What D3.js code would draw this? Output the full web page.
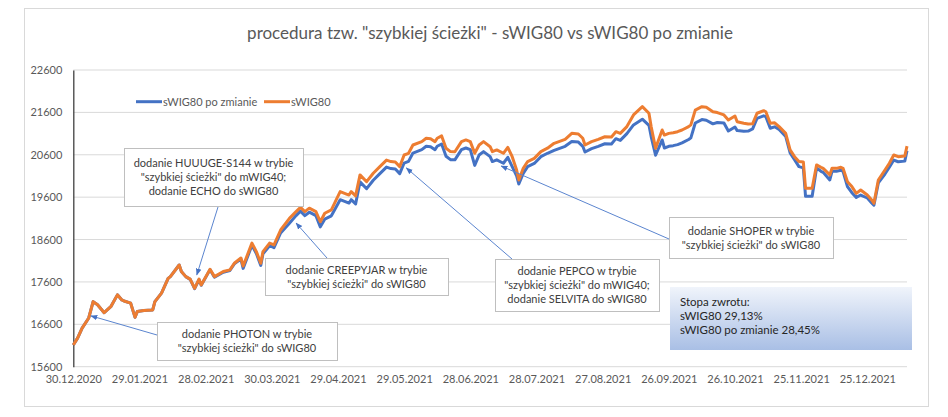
<!DOCTYPE html>
<html><head><meta charset="utf-8">
<script src="https://cdn.jsdelivr.net/npm/d3@7/dist/d3.min.js"></script>
<style>body{margin:0;background:#fff;}svg{display:block;font-family:Lato,"Open Sans",sans-serif;}</style>
</head><body><svg id="c" width="948" height="417"></svg>
<script>
const dates = ["2020-12-30","2021-01-01","2021-01-03","2021-01-06","2021-01-08","2021-01-10","2021-01-13","2021-01-16","2021-01-19","2021-01-21","2021-01-22","2021-01-25","2021-01-27","2021-01-28","2021-01-31","2021-02-04","2021-02-05","2021-02-08","2021-02-11","2021-02-12","2021-02-16","2021-02-17","2021-02-19","2021-02-21","2021-02-23","2021-02-25","2021-02-26","2021-03-02","2021-03-04","2021-03-08","2021-03-11","2021-03-13","2021-03-16","2021-03-17","2021-03-21","2021-03-23","2021-03-25","2021-03-26","2021-03-29","2021-03-31","2021-04-03","2021-04-07","2021-04-10","2021-04-12","2021-04-14","2021-04-16","2021-04-19","2021-04-21","2021-04-23","2021-04-26","2021-04-30","2021-05-02","2021-05-04","2021-05-05","2021-05-07","2021-05-09","2021-05-12","2021-05-15","2021-05-18","2021-05-21","2021-05-23","2021-05-25","2021-05-27","2021-05-29","2021-05-31","2021-06-02","2021-06-06","2021-06-08","2021-06-10","2021-06-12","2021-06-13","2021-06-15","2021-06-17","2021-06-19","2021-06-21","2021-06-24","2021-06-26","2021-06-28","2021-06-30","2021-07-02","2021-07-04","2021-07-07","2021-07-08","2021-07-10","2021-07-13","2021-07-15","2021-07-17","2021-07-19","2021-07-20","2021-07-22","2021-07-24","2021-07-27","2021-07-30","2021-08-02","2021-08-05","2021-08-10","2021-08-13","2021-08-16","2021-08-18","2021-08-19","2021-08-22","2021-08-25","2021-08-28","2021-08-31","2021-09-02","2021-09-04","2021-09-07","2021-09-10","2021-09-14","2021-09-17","2021-09-18","2021-09-20","2021-09-23","2021-09-24","2021-09-26","2021-09-28","2021-09-30","2021-10-02","2021-10-05","2021-10-06","2021-10-08","2021-10-11","2021-10-13","2021-10-16","2021-10-18","2021-10-21","2021-10-23","2021-10-26","2021-10-27","2021-10-30","2021-11-01","2021-11-03","2021-11-05","2021-11-08","2021-11-09","2021-11-11","2021-11-13","2021-11-15","2021-11-18","2021-11-20","2021-11-22","2021-11-24","2021-11-26","2021-11-27","2021-11-30","2021-12-02","2021-12-04","2021-12-05","2021-12-08","2021-12-09","2021-12-11","2021-12-13","2021-12-14","2021-12-16","2021-12-18","2021-12-20","2021-12-22","2021-12-25","2021-12-27","2021-12-28","2021-12-30","2022-01-02","2022-01-04","2022-01-06","2022-01-08","2022-01-11","2022-01-12"];

const swig80 = [16110,16280,16510,16750,17135,17060,16875,17015,17295,17175,17150,17100,16765,16900,16925,16940,17135,17335,17685,17725,18000,17845,17725,17665,17450,17665,17530,17900,17725,17845,17885,18040,18165,17975,18515,18315,18040,18315,18515,18475,18825,19100,19260,19360,19260,19340,19260,19020,19220,19300,19730,19690,19650,19730,19630,20125,19965,20165,20320,20475,20440,20430,20320,20595,20635,20830,20910,20990,20980,20910,20990,21045,20755,20675,20670,20910,20950,20910,20635,20830,20910,20790,20675,20715,20635,20775,20555,20240,20005,20280,20440,20515,20675,20755,20870,20965,21105,21090,20990,20830,20910,20965,21025,21020,21145,21105,21265,21540,21735,21580,21265,20755,21185,21065,21105,21120,21145,21185,21265,21305,21655,21735,21720,21615,21595,21540,21420,21515,21380,21345,21325,21330,21580,21640,21615,21345,21355,21265,21105,20715,20555,20440,20430,19810,19810,20360,20305,20280,20125,20280,20280,20305,20280,19965,19850,19690,19770,19650,19535,19455,20005,20240,20400,20595,20555,20570,20805];

const swig80New = [16110,16280,16510,16750,17135,17060,16875,17015,17295,17175,17150,17100,16765,16900,16925,16940,17135,17335,17685,17725,18000,17845,17725,17660,17440,17655,17520,17890,17710,17830,17870,18025,18140,17920,18465,18270,17990,18265,18455,18410,18755,18985,19165,19270,19165,19245,19165,18900,19080,19160,19540,19500,19460,19540,19440,19960,19800,20000,20155,20310,20275,20265,20155,20405,20445,20640,20720,20800,20790,20720,20800,20855,20565,20485,20480,20720,20760,20720,20350,20595,20675,20555,20440,20480,20400,20540,20320,20100,19910,20160,20320,20395,20555,20635,20705,20800,20915,20900,20800,20665,20745,20800,20860,20855,20980,20940,21100,21305,21440,21295,21030,20590,20950,20760,20800,20815,20840,20880,20960,21000,21350,21430,21415,21330,21360,21350,21160,21255,21170,21155,21160,21210,21460,21520,21500,21225,21260,21195,21035,20645,20485,20320,20290,19620,19620,20290,20210,20185,20005,20210,20210,20235,20210,19850,19705,19595,19650,19580,19465,19410,19935,20145,20305,20475,20435,20450,20695];

const seriesNames = ["sWIG80 po zmianie", "sWIG80"];
const yTicks = [15600,16600,17600,18600,19600,20600,21600,22600];
const xTickLabels = ["30.12.2020","29.01.2021","28.02.2021","30.03.2021","29.04.2021","29.05.2021","28.06.2021","28.07.2021","27.08.2021","26.09.2021","26.10.2021","25.11.2021","25.12.2021"];
const titleText = 'procedura tzw. "szybkiej ścieżki" - sWIG80 vs sWIG80 po zmianie';
const annotations = [
  {lines:["dodanie HUUUGE-S144 w trybie","\"szybkiej ścieżki\" do mWIG40;","dodanie ECHO do sWIG80"], date:"2021-02-24", value:17765, box:[124,148,179,58], from:[218,207]},
  {lines:["dodanie PHOTON w trybie","\"szybkiej ścieżki\" do sWIG80"], date:"2021-01-07", value:16800, box:[157,322,180,38], from:[157,335]},
  {lines:["dodanie CREEPYJAR w trybie","\"szybkiej ścieżki\" do sWIG80"], date:"2021-04-10", value:18990, box:[265,258,183,37], from:[327,258]},
  {lines:["dodanie PEPCO w trybie","\"szybkiej ścieżki\" do mWIG40;","dodanie SELVITA do sWIG80"], date:"2021-05-30", value:20290, box:[495,259,164,52], from:[512,259]},
  {lines:["dodanie SHOPER w trybie","\"szybkiej ścieżki\" do sWIG80"], date:"2021-07-12", value:20335, box:[669,217,164,41], from:[669,239]}
];
const statsLines = ["Stopa zwrotu:","sWIG80 29,13%","sWIG80 po zmianie 28,45%"];

const parse = d3.timeParse("%Y-%m-%d");
const parseTick = d3.timeParse("%d.%m.%Y");
const svg = d3.select("#c");

const x = d3.scaleTime().domain([parse("2020-12-30"), parse("2022-01-12")]).range([73.3, 907]);
const y = d3.scaleLinear().domain([15600, 22600]).range([366.7, 70]);

// chart frame
svg.append("rect").attr("x",24.5).attr("y",8.5).attr("width",904).attr("height",398)
  .attr("fill","#fff").attr("stroke","#d9d9d9").attr("stroke-width",1);

// title
svg.append("text").attr("x",490).attr("y",39).attr("text-anchor","middle")
  .attr("font-size",17).attr("fill","#595959").text(titleText);

// grid
svg.append("g").selectAll("line").data(yTicks).join("line")
  .attr("x1",73.3).attr("x2",907).attr("y1",d=>y(d)).attr("y2",d=>y(d))
  .attr("stroke","#d9d9d9").attr("stroke-width",1);

// y axis
const yAxis = svg.append("g").attr("transform","translate(73.3,0)")
  .call(d3.axisLeft(y).tickValues(yTicks).tickSize(0).tickPadding(11).tickFormat(d3.format("d")));
yAxis.select(".domain").attr("stroke","#404040").attr("stroke-width",1.3);
yAxis.selectAll("text").attr("font-size",11).attr("fill","#595959").attr("font-family","Lato");

// x axis
const xAxis = svg.append("g").attr("transform","translate(0,366.7)")
  .call(d3.axisBottom(x).tickValues(xTickLabels.map(parseTick)).tickSize(0).tickPadding(9).tickFormat(d3.timeFormat("%d.%m.%Y")));
xAxis.select(".domain").remove();
xAxis.selectAll("text").attr("font-size",11).attr("fill","#595959").attr("font-family","Lato");

// lines
const pts = dates.map(parse);
const line = d3.line().x((d,i)=>x(pts[i])).y(d=>y(d));
svg.append("path").datum(swig80New).attr("d",line).attr("fill","none")
  .attr("stroke","#4472C4").attr("stroke-width",3).attr("stroke-linejoin","round");
svg.append("path").datum(swig80).attr("d",line).attr("fill","none")
  .attr("stroke","#ED7D31").attr("stroke-width",3).attr("stroke-linejoin","round");

// legend
const lg = svg.append("g");
const legendItems = [{name:seriesNames[0],color:"#4472C4",x:136},{name:seriesNames[1],color:"#ED7D31",x:264}];
legendItems.forEach(it=>{
  lg.append("line").attr("x1",it.x).attr("x2",it.x+26).attr("y1",101.7).attr("y2",101.7)
    .attr("stroke",it.color).attr("stroke-width",3);
  lg.append("text").attr("x",it.x+27).attr("y",105.5).attr("font-size",11).attr("fill","#595959").text(it.name);
});

// arrow marker
const defs = svg.append("defs");
defs.append("marker").attr("id","arr").attr("viewBox","0 0 10 10").attr("refX",9).attr("refY",5)
  .attr("markerWidth",7).attr("markerHeight",7).attr("orient","auto-start-reverse")
  .append("path").attr("d","M0,1 L10,5 L0,9 z").attr("fill","#4472C4");

// annotations
annotations.forEach(a=>{
  const tx = x(parse(a.date)), ty = y(a.value);
  svg.append("line").attr("x1",a.from[0]).attr("y1",a.from[1]).attr("x2",tx).attr("y2",ty)
    .attr("stroke","#5b85cf").attr("stroke-width",1).attr("marker-end","url(#arr)");
  const [bx,by,bw,bh] = a.box;
  svg.append("rect").attr("x",bx+0.5).attr("y",by+0.5).attr("width",bw).attr("height",bh)
    .attr("fill","#fff").attr("stroke","#bfbfbf").attr("stroke-width",1);
  const n = a.lines.length;
  a.lines.forEach((t,i)=>{
    svg.append("text").attr("x",bx+bw/2).attr("y",by+bh/2+(i-(n-1)/2)*14+4)
      .attr("text-anchor","middle").attr("font-size",11).attr("fill","#404040").text(t);
  });
});

// stats box
const grad = defs.append("linearGradient").attr("id","g1").attr("x1",0).attr("y1",0).attr("x2",0).attr("y2",1);
grad.append("stop").attr("offset","0%").attr("stop-color","#f0f4fb");
grad.append("stop").attr("offset","100%").attr("stop-color","#a9bfe5");
svg.append("rect").attr("x",670).attr("y",287).attr("width",242).attr("height",63).attr("fill","url(#g1)");
statsLines.forEach((t,i)=>{
  svg.append("text").attr("x",680).attr("y",305.5+i*14.2).attr("font-size",11.5).attr("fill","#262626").text(t);
});
</script></body></html>
